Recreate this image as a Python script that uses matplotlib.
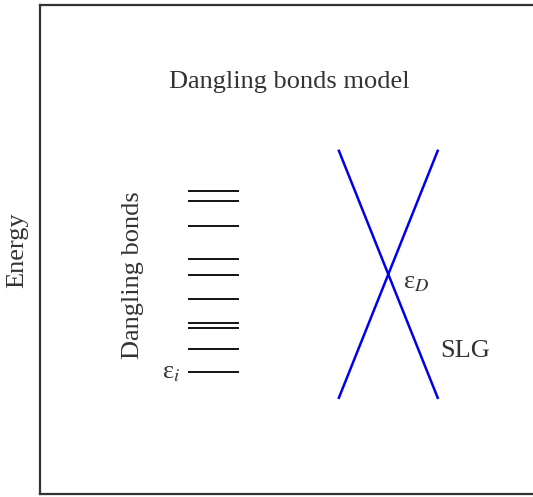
import matplotlib
matplotlib.use("Agg")
import matplotlib.pyplot as plt
import numpy as np

# Dangling bond energy levels (arbitrary units, Dirac point at 0)
db_levels = [0.836, 0.736, 0.486, 0.150, -0.004, -0.244, -0.490, -0.540, -0.744, -0.980]
db_k_range = [-2.0, -1.49]
# Dirac cone of SLG: E = +/- v*k
k_cone = [-0.494, 0.494]
v_fermi = 2.5

plt.rcParams['font.family'] = ['Liberation Serif', 'DejaVu Serif']
plt.rcParams['mathtext.fontset'] = 'stix'
tc = '#333333'
fs = 19

fig = plt.figure(figsize=(5.33, 4.97), dpi=100)
ax = fig.add_axes([40/533, 3/497, 493/533, 489/497])
ax.set_xlim(-3.483, 1.447)
ax.set_ylim(-2.197, 2.693)

for e in db_levels:
    ax.plot(db_k_range, [e, e], color='black', lw=1.3, solid_capstyle='butt')

k = np.array(k_cone)
ax.plot(k, v_fermi*k, color='#0000ee', lw=1.8)
ax.plot(k, -v_fermi*k, color='#0000ee', lw=1.8)

ax.set_xticks([]); ax.set_yticks([])
for s in ['left', 'top', 'bottom']:
    ax.spines[s].set_linewidth(1.6)
    ax.spines[s].set_color(tc)
ax.spines['right'].set_visible(False)

ax.text(-0.99, 1.92, 'Dangling bonds model', fontsize=fs, color=tc, ha='center', va='center')
ax.text(-2.55, -0.01, 'Dangling bonds', fontsize=fs, color=tc, ha='center', va='center', rotation=90)
ax.text(-2.08, -0.99, 'ε$_i$', fontsize=fs, color=tc, ha='right', va='center')
ax.text(0.15, -0.09, 'ε$_D$', fontsize=fs, color=tc, ha='left', va='center')
ax.text(0.52, -0.77, 'SLG', fontsize=fs, color=tc, ha='left', va='center')
fig.text(17/533, 1 - 250/497, 'Energy', fontsize=fs, color=tc, ha='center', va='center', rotation=90)

fig.savefig('out.png', dpi=100)
